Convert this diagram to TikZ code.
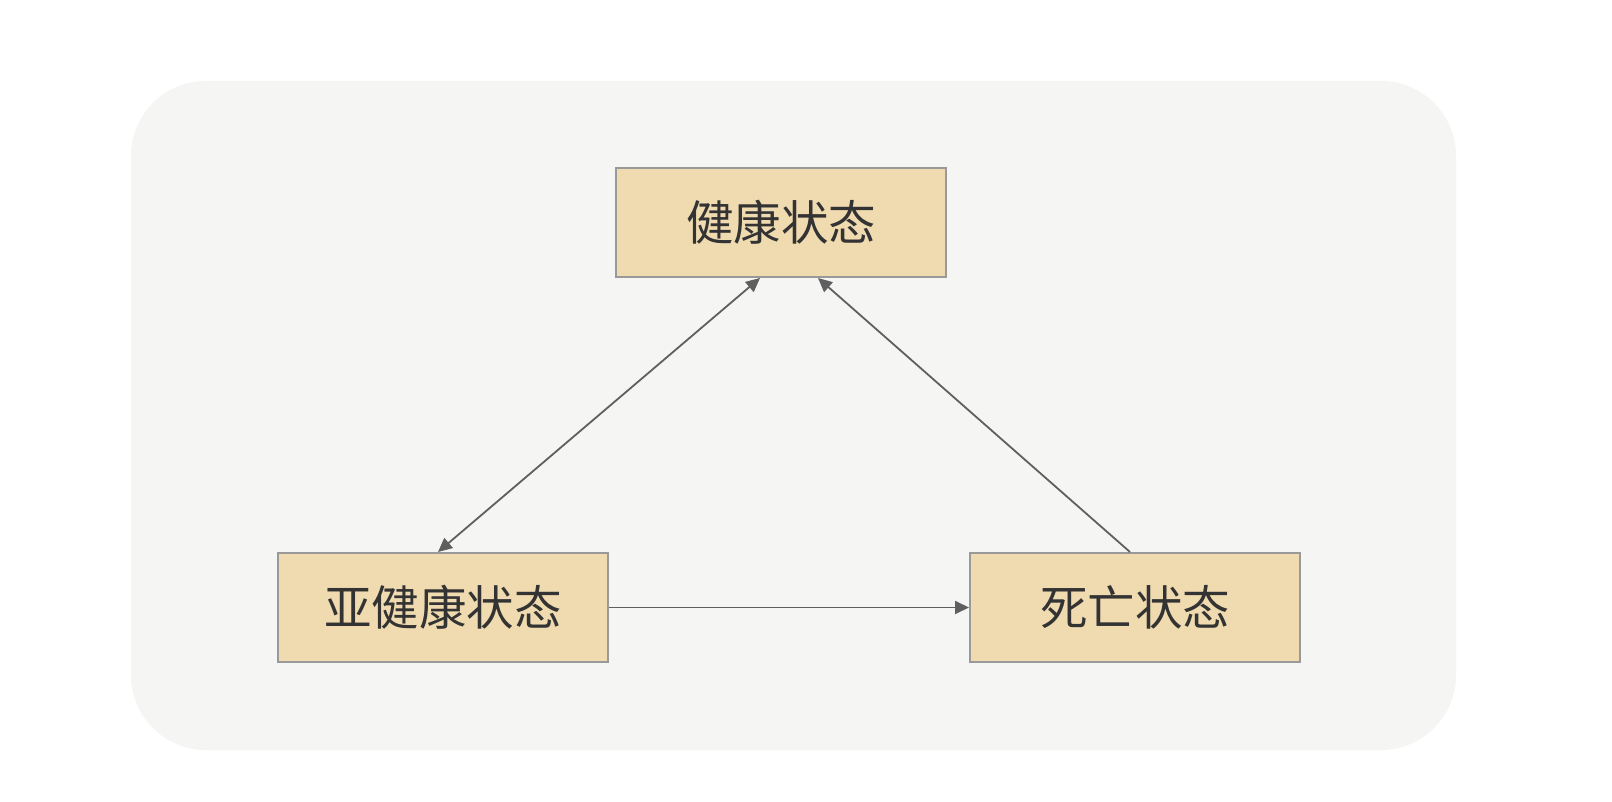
\documentclass[tikz,border=0pt]{standalone}
\usepackage{fontspec}
\newfontfamily\cjk{Noto Sans CJK SC}
\usetikzlibrary{arrows.meta}
\definecolor{bgc}{HTML}{F5F5F4}
\definecolor{boxfill}{HTML}{F0DBB0}
\definecolor{boxline}{HTML}{999999}
\definecolor{linec}{HTML}{5F5F5F}
\definecolor{txt}{HTML}{333333}
\tikzset{
  statebox/.style={draw=boxline, line width=2pt, fill=boxfill, minimum width=330pt, minimum height=109pt, inner sep=0pt, font=\cjk\fontsize{47.5}{52}\selectfont, text=txt},
  conn/.style={draw=linec, line width=1.8pt},
  tip/.style={-{Triangle[length=14pt,width=13pt]}}
}
\begin{document}
\begin{tikzpicture}[x=1pt,y=-1pt]
\useasboundingbox (0,0) rectangle (1612,802);
\fill[white] (0,0) rectangle (1612,802);
\fill[bgc, rounded corners=75pt] (131,81) rectangle (1456,750);
\node[statebox] (h) at (781,222.5) {健康状态};
\node[statebox] (s) at (443,607.5) {亚健康状态};
\node[statebox] (d) at (1135,607.5) {死亡状态};
\draw[conn, {Triangle[length=14pt,width=13pt]}-{Triangle[length=14pt,width=13pt]}] ([xshift=-5pt]s.north) -- ([xshift=-21pt]h.south);
\draw[conn, tip] ([xshift=-5pt]d.north) -- ([xshift=37pt]h.south);
\draw[conn, tip] (s.east) -- (d.west);
\end{tikzpicture}
\end{document}
